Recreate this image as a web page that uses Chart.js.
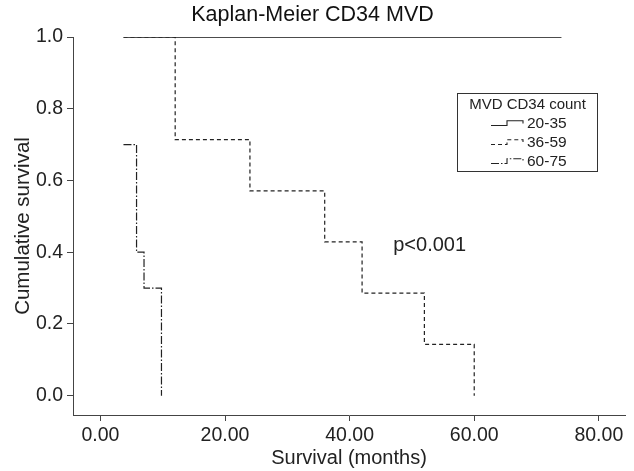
<!DOCTYPE html>
<html>
<head>
<meta charset="utf-8">
<script src="https://cdn.jsdelivr.net/npm/chart.js@4.4.0/dist/chart.umd.min.js"></script>
<style>
  html, body { margin: 0; padding: 0; background: #fff; }
  canvas { display: block; }
</style>
</head>
<body>
<canvas id="grafico" width="634" height="471"></canvas>
<script>
// datos
const titulo = 'Kaplan-Meier CD34 MVD';
const tituloLeyenda = 'MVD CD34 count';
const grupos = ['20-35', '36-59', '60-75'];
const tiempos2035 = [3.7, 74];
const superv2035 = [1.0, 1.0];
const tiempos3659 = [3.7, 12, 24, 36, 42, 52, 60];
const superv3659 = [1.0, 0.714, 0.571, 0.429, 0.286, 0.143, 0.0];
const tiempos6075 = [3.7, 5.8, 7, 9.8];
const superv6075 = [0.7, 0.4, 0.3, 0.0];
const ticksX = [0, 20, 40, 60, 80];
const ticksY = [0, 0.2, 0.4, 0.6, 0.8, 1.0];
const textoP = 'p<0.001';
const posP = { x: 47, y: 0.42 };

const FUENTE = '"Liberation Sans", Arial, sans-serif';
const estilos = [[], [4, 3], [8, 2, 1.5, 2]];
const grosores = [1.5, 1.2, 1.2];

const puntos = (t, s) => t.map((v, i) => ({ x: v, y: s[i] }));

const leyendaKM = {
    id: 'leyendaKM',
    afterDraw(chart) {
        const ctx = chart.ctx;
        const { x, y } = chart.scales;
        ctx.save();
        // texto p
        ctx.fillStyle = '#222';
        ctx.font = '20px ' + FUENTE;
        ctx.textAlign = 'left';
        ctx.textBaseline = 'middle';
        ctx.fillText(textoP, x.getPixelForValue(posP.x), y.getPixelForValue(posP.y));

        // caja de leyenda
        ctx.strokeStyle = '#333';
        ctx.lineWidth = 1;
        ctx.strokeRect(457.5, 93.5, 140, 78);
        ctx.font = '15px ' + FUENTE;
        ctx.textAlign = 'center';
        ctx.fillText(tituloLeyenda, 527.5, 104.5);
        ctx.textAlign = 'left';
        ctx.font = '15.5px ' + FUENTE;
        const L = 527;
        grupos.forEach((g, i) => {
            const yy = 123.5 + i * 19;
            ctx.fillText(g, L, yy);
            ctx.setLineDash(estilos[i]);
            ctx.strokeStyle = '#222';
            ctx.lineWidth = 1.1;
            ctx.beginPath();
            ctx.moveTo(L - 36, yy + 2);
            ctx.lineTo(L - 20, yy + 2);
            ctx.lineTo(L - 20, yy - 2.7);
            ctx.lineTo(L - 4, yy - 2.7);
            ctx.lineTo(L - 4, yy);
            ctx.stroke();
        });
        ctx.restore();
    }
};

const serie = (t, s, i) => ({
    label: grupos[i],
    data: puntos(t, s),
    stepped: 'before',
    borderColor: i === 0 ? '#111' : '#222',
    borderWidth: grosores[i],
    borderDash: estilos[i],
    pointRadius: 0,
    fill: false
});

new Chart(document.getElementById('grafico'), {
    type: 'line',
    data: {
        datasets: [
            serie(tiempos2035, superv2035, 0),
            serie(tiempos3659, superv3659, 1),
            serie(tiempos6075, superv6075, 2)
        ]
    },
    options: {
        responsive: false,
        animation: false,
        devicePixelRatio: 1,
        layout: { padding: { left: 0, right: 9, top: 0, bottom: 0 } },
        plugins: {
            legend: { display: false },
            tooltip: { enabled: false },
            title: {
                display: true,
                text: titulo,
                color: '#111',
                font: { family: FUENTE, size: 21.5, weight: 'normal' },
                padding: { top: 2, bottom: 9.2 }
            }
        },
        scales: {
            x: {
                type: 'linear',
                min: -4.4,
                max: 84.2,
                afterBuildTicks: s => { s.ticks = ticksX.map(v => ({ value: v })); },
                afterFit: s => { s.height = 56; },
                grid: { display: true, drawOnChartArea: false, drawTicks: true, tickLength: 6, color: '#444' },
                border: { display: true, color: '#444', width: 1 },
                ticks: {
                    color: '#222',
                    padding: 3,
                    maxRotation: 0,
                    font: { family: FUENTE, size: 19.5 },
                    callback: v => Number(v).toFixed(2)
                },
                title: {
                    display: true,
                    text: 'Survival (months)',
                    color: '#222',
                    font: { family: FUENTE, size: 20 },
                    padding: { top: 0, bottom: 1 }
                }
            },
            y: {
                type: 'linear',
                min: -0.054,
                max: 1.0,
                afterBuildTicks: s => { s.ticks = ticksY.map(v => ({ value: v })); },
                afterFit: s => { s.width = 73; },
                grid: { display: true, drawOnChartArea: false, drawTicks: true, tickLength: 6, color: '#444' },
                border: { display: true, color: '#444', width: 1 },
                ticks: {
                    color: '#222',
                    padding: 4,
                    font: { family: FUENTE, size: 19.5 },
                    callback: v => Number(v).toFixed(1)
                },
                title: {
                    display: true,
                    text: 'Cumulative survival',
                    color: '#222',
                    font: { family: FUENTE, size: 20.5 },
                    padding: { top: 11, bottom: 0 }
                }
            }
        }
    },
    plugins: [leyendaKM]
});
</script>
</body>
</html>
